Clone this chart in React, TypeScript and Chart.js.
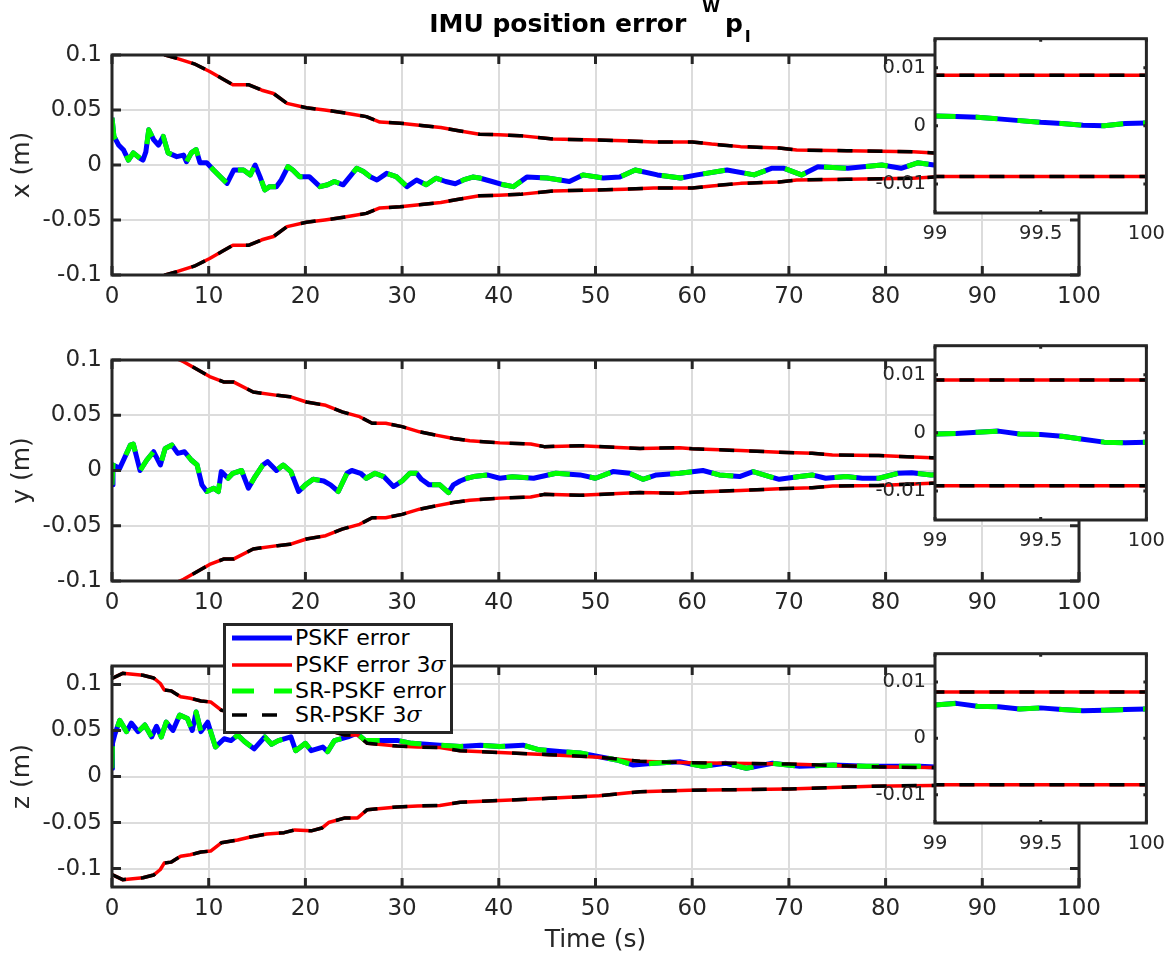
import React, { useEffect, useRef } from "react";
import { Chart, registerables } from "chart.js";

Chart.register(...registerables);

const FONT = "'DejaVu Sans', sans-serif";
const AXIS_COLOR = "#262626";
const GRID_COLOR = "#dcdcdc";
const TICK_SIZE = 23;
const LABEL_SIZE = 25;
const INSET_TICK_SIZE = 19.5;

// ---------------- data: panel x ----------------
const timeErrX = [0, 0.2, 0.7, 1.2, 1.7, 2.2, 2.9, 3.2, 3.5, 3.8, 4.3, 4.8, 5.3, 5.8, 6.7, 7.4, 7.7, 8.2, 8.7, 9.1, 9.8, 10.5, 11.2, 11.9, 12.6, 13.6, 14.3, 14.8, 15.3, 15.8, 16.3, 17.0, 17.5, 18.2, 18.7, 19.4, 20.4, 21.5, 22.3, 23.0, 23.9, 24.6, 25.3, 26.0, 26.7, 27.4, 28.4, 29.4, 30.5, 31.5, 32.5, 33.5, 34.5, 35.5, 36.5, 37.3, 38.0, 39.3, 40.5, 41.5, 42.9, 45.0, 47.3, 48.7, 50.8, 52.5, 54.1, 56.4, 58.8, 60.5, 63.6, 66.4, 68.2, 69.5, 71.3, 73.0, 76.1, 79.6, 81.6, 83.3, 85.0, 88, 92, 96, 98, 99.0, 99.1, 99.2, 99.3, 99.4, 99.5, 99.6, 99.7, 99.8, 99.9, 100];
const errX = [0.043, 0.026, 0.018, 0.0136, 0.0045, 0.011, 0.006, 0.0045, 0.012, 0.032, 0.023, 0.018, 0.026, 0.011, 0.0076, 0.009, 0.003, 0.011, 0.014, 0.002, 0.002, -0.0045, -0.0106, -0.0167, -0.0045, -0.0045, -0.009, 0, -0.0106, -0.0227, -0.0197, -0.0197, -0.0136, -0.0015, -0.0045, -0.0106, -0.0106, -0.0197, -0.018, -0.015, -0.018, -0.0106, -0.003, -0.006, -0.0106, -0.0136, -0.0076, -0.0106, -0.0197, -0.0136, -0.018, -0.012, -0.015, -0.017, -0.013, -0.011, -0.0118, -0.015, -0.018, -0.0197, -0.011, -0.0118, -0.015, -0.009, -0.0118, -0.011, -0.0045, -0.009, -0.0118, -0.009, -0.0045, -0.009, -0.003, -0.003, -0.009, -0.0015, -0.003, 0, -0.003, 0.002, 0, 0.002, 0.003, 0.0022, 0.0019, 0.0017, 0.0016, 0.0015, 0.0012, 0.0009, 0.0006, 0.0004, 0.0001, 0, 0.0004, 0.0005];
const timeSigX = [0, 3, 5.5, 6.7, 8.5, 10.1, 11.5, 12.5, 14.1, 15.5, 16.7, 18.1, 20.1, 22, 23.6, 25, 26.3, 27.7, 29.8, 32, 34, 36, 38, 40, 42.2, 45.6, 50.1, 53, 56, 60, 62, 65, 69, 70.8, 76, 82.8, 85, 90, 95, 99, 100];
const sigX = [0.13, 0.115, 0.1, 0.097, 0.092, 0.085, 0.078, 0.073, 0.073, 0.068, 0.065, 0.056, 0.052, 0.05, 0.048, 0.046, 0.044, 0.039, 0.038, 0.036, 0.034, 0.031, 0.028, 0.0275, 0.0267, 0.0236, 0.0227, 0.022, 0.021, 0.021, 0.019, 0.0167, 0.0155, 0.0136, 0.013, 0.012, 0.011, 0.0102, 0.0093, 0.0087, 0.0087];

// ---------------- data: panel y ----------------
const timeErrY = [0, 0.1, 0.8, 1.9, 2.2, 2.9, 3.6, 4.3, 5.0, 5.5, 6.2, 6.8, 7.5, 8.2, 8.8, 9.3, 9.8, 10.5, 11.0, 11.3, 12.0, 12.5, 13.4, 14.1, 14.8, 15.6, 16.1, 17.0, 17.7, 18.5, 19.3, 20.0, 20.8, 21.9, 22.6, 23.4, 24.3, 24.8, 25.7, 26.3, 27.2, 28.1, 29.1, 30.0, 30.8, 31.5, 32.0, 32.8, 33.9, 34.8, 35.3, 36.0, 36.7, 37.4, 38.8, 40.1, 41.4, 43.6, 45.9, 48.4, 50.0, 51.8, 53.5, 54.9, 56.3, 58.7, 61.1, 62.8, 64.9, 66.3, 68.0, 69.0, 71.1, 72.4, 73.8, 75.9, 77.6, 79.3, 81.3, 82.7, 84.7, 88, 92, 96, 98, 99.0, 99.1, 99.2, 99.3, 99.4, 99.5, 99.6, 99.7, 99.8, 99.9, 100];
const errY = [-0.013, 0.005, 0.002, 0.023, 0.024, 0, 0.0095, 0.017, 0.005, 0.02, 0.023, 0.0155, 0.017, 0.0095, 0.005, -0.013, -0.019, -0.016, -0.019, -0.001, -0.007, -0.0025, 0, -0.016, -0.0055, 0.005, 0.008, 0, 0.005, -0.001, -0.019, -0.013, -0.008, -0.0095, -0.013, -0.019, -0.0025, 0, -0.0025, -0.007, -0.0025, -0.0055, -0.0145, -0.0095, -0.0025, -0.0025, -0.008, -0.013, -0.013, -0.02, -0.013, -0.0095, -0.007, -0.0055, -0.004, -0.007, -0.0056, -0.007, -0.0025, -0.004, -0.007, -0.001, -0.0025, -0.008, -0.004, -0.0025, 0, -0.004, -0.0055, -0.001, -0.0055, -0.008, -0.0055, -0.004, -0.007, -0.0055, -0.007, -0.007, -0.0025, -0.002, -0.004, -0.003, -0.002, -0.001, -0.0005, -0.0002, -0.0001, 0.0001, 0.0003, -0.0002, -0.0003, -0.0006, -0.0011, -0.0016, -0.0017, -0.0016];
const timeSigY = [0, 4, 7.4, 10.1, 11.6, 12.6, 14.6, 17.1, 18.4, 20.1, 22.1, 23.8, 25.6, 26.9, 28.3, 30, 31.8, 33.5, 35.3, 37, 40.1, 43.3, 44.7, 48.4, 54.6, 58.7, 60, 65, 69, 72.4, 74.5, 79.3, 84.7, 90, 95, 99, 100];
const sigY = [0.13, 0.112, 0.0985, 0.085, 0.08, 0.08, 0.071, 0.068, 0.0668, 0.062, 0.059, 0.053, 0.0487, 0.0427, 0.0427, 0.0397, 0.035, 0.032, 0.029, 0.027, 0.025, 0.024, 0.0216, 0.0225, 0.02, 0.0206, 0.0196, 0.018, 0.0165, 0.0156, 0.014, 0.0135, 0.0116, 0.0105, 0.0097, 0.0091, 0.0091];

// ---------------- data: panel z ----------------
const timeErrZ = [0, 0.05, 0.3, 0.8, 1.5, 2.0, 2.7, 3.4, 4.1, 4.6, 5.1, 5.6, 6.3, 7.0, 7.8, 8.3, 8.7, 9.2, 9.9, 10.7, 11.6, 12.3, 13.0, 13.7, 14.7, 15.8, 16.5, 17.2, 18.5, 19.0, 20.0, 20.6, 21.8, 22.3, 23.0, 24.4, 25.3, 26.2, 27.9, 29.6, 31.0, 32.5, 33.9, 36.0, 38.1, 40.1, 42.5, 44.2, 46.6, 48.4, 50.4, 52.2, 53.9, 56.0, 58.7, 61.1, 63.5, 65.6, 68.3, 71.1, 74.6, 78.0, 80.8, 83.5, 88, 92, 96, 98, 99.0, 99.1, 99.2, 99.3, 99.4, 99.5, 99.6, 99.7, 99.8, 99.9, 100];
const errZ = [0.009, 0.036, 0.046, 0.061, 0.0487, 0.058, 0.0487, 0.056, 0.043, 0.0545, 0.043, 0.059, 0.05, 0.0668, 0.063, 0.05, 0.07, 0.0487, 0.059, 0.032, 0.041, 0.039, 0.045, 0.038, 0.03, 0.043, 0.035, 0.039, 0.043, 0.028, 0.036, 0.028, 0.032, 0.027, 0.039, 0.043, 0.047, 0.039, 0.039, 0.039, 0.036, 0.035, 0.034, 0.0325, 0.034, 0.0325, 0.034, 0.029, 0.027, 0.0255, 0.0215, 0.018, 0.0125, 0.0143, 0.016, 0.011, 0.0143, 0.009, 0.0143, 0.011, 0.0125, 0.011, 0.011, 0.011, 0.009, 0.0075, 0.0065, 0.006, 0.0059, 0.0062, 0.0057, 0.0056, 0.0052, 0.0054, 0.0051, 0.0049, 0.005, 0.0051, 0.0052];
const timeSigZ = [0, 1.1, 3.2, 4.3, 5.0, 5.4, 6.1, 7.1, 8.1, 9.2, 10.2, 11.3, 13, 14.3, 16, 17.8, 18.9, 20.6, 21.7, 22.4, 24.1, 25.4, 26.4, 29.5, 31.6, 33.9, 36, 40.1, 45.2, 50.4, 53.2, 54.6, 59.7, 70, 78.6, 84.8, 90, 95, 99, 100];
const sigZ = [0.1066, 0.112, 0.11, 0.107, 0.101, 0.094, 0.093, 0.0867, 0.085, 0.082, 0.081, 0.072, 0.069, 0.0657, 0.0625, 0.061, 0.058, 0.059, 0.056, 0.05, 0.045, 0.045, 0.036, 0.033, 0.032, 0.0315, 0.028, 0.026, 0.0237, 0.021, 0.018, 0.0165, 0.015, 0.0135, 0.0105, 0.0097, 0.009, 0.0085, 0.0082, 0.0082];

// ---------------- ticks / labels ----------------
const xTicks = [0, 10, 20, 30, 40, 50, 60, 70, 80, 90, 100];
const yTicksMain = [-0.1, -0.05, 0, 0.05, 0.1];
const insetXTicks = [99, 99.5, 100];
const insetYTicks = [-0.01, 0, 0.01];
const panelLabels = ["x (m)", "y (m)", "z (m)"];
const xAxisLabel = "Time (s)";
const seriesLabels = ["PSKF error", "PSKF error 3", "SR-PSKF error", "SR-PSKF 3"];

// styles
const STY = {
  blue: { color: "#0000ff", width: 5, dash: [] as number[] },
  red: { color: "#ff0000", width: 3.5, dash: [] as number[] },
  green: { color: "#00ff00", width: 5, dash: [22, 20] },
  black: { color: "#000000", width: 3.5, dash: [15, 15] },
};

const pts = (t: number[], v: number[]) => t.map((x, i) => ({ x, y: v[i] }));
const negPts = (t: number[], v: number[]) => t.map((x, i) => ({ x, y: -v[i] }));

function makeDatasets(te: number[], e: number[], ts: number[], s: number[]) {
  const base = { pointRadius: 0, tension: 0, fill: false, borderCapStyle: "butt", borderJoinStyle: "round", clip: 0 } as any;
  return [
    { ...base, label: seriesLabels[0], data: pts(te, e), borderColor: STY.blue.color, borderWidth: STY.blue.width, order: 6 },
    { ...base, label: seriesLabels[1], data: pts(ts, s), borderColor: STY.red.color, borderWidth: STY.red.width, order: 5 },
    { ...base, label: seriesLabels[1] + "-", data: negPts(ts, s), borderColor: STY.red.color, borderWidth: STY.red.width, order: 5 },
    { ...base, label: seriesLabels[2], data: pts(te, e), borderColor: STY.green.color, borderWidth: STY.green.width, borderDash: STY.green.dash, order: 4 },
    { ...base, label: seriesLabels[3], data: pts(ts, s), borderColor: STY.black.color, borderWidth: STY.black.width, borderDash: STY.black.dash, order: 3 },
    { ...base, label: seriesLabels[3] + "-", data: negPts(ts, s), borderColor: STY.black.color, borderWidth: STY.black.width, borderDash: STY.black.dash, order: 3 },
  ];
}

const boxPlugin = {
  id: "box",
  beforeDraw(chart: any, _a: any, opts: any) {
    if (!opts.fill) return;
    const { ctx, chartArea: a } = chart;
    ctx.save();
    ctx.fillStyle = opts.fill;
    ctx.fillRect(a.left, a.top, a.width, a.height);
    ctx.restore();
  },
  afterDatasetsDraw(chart: any, _a: any, opts: any) {
    const { ctx, chartArea: a, scales } = chart;
    const L = opts.tick || 0;
    ctx.save();
    ctx.strokeStyle = AXIS_COLOR;
    ctx.lineWidth = 3;
    ctx.lineCap = "butt";
    ctx.beginPath();
    for (const t of scales.x.ticks) {
      const px = scales.x.getPixelForValue(t.value);
      ctx.moveTo(px, a.bottom);
      ctx.lineTo(px, a.bottom - L);
      ctx.moveTo(px, a.top);
      ctx.lineTo(px, a.top + L);
    }
    for (const t of scales.y.ticks) {
      const py = scales.y.getPixelForValue(t.value);
      ctx.moveTo(a.left, py);
      ctx.lineTo(a.left + L, py);
      ctx.moveTo(a.right, py);
      ctx.lineTo(a.right - L, py);
    }
    ctx.stroke();
    ctx.strokeRect(a.left, a.top, a.width, a.height);
    ctx.restore();
  },
};

type PanelGeom = { top: number; bottom: number; ymax: number; ext: number };
const mainGeoms: PanelGeom[] = [
  { top: 55, bottom: 275, ymax: 0.1, ext: 45 },
  { top: 360, bottom: 581, ymax: 0.1, ext: 45 },
  { top: 666, bottom: 887, ymax: 0.12, ext: 72 },
];
const insetGeoms = [
  { top: 38, bottom: 213 },
  { top: 345, bottom: 520 },
  { top: 653, bottom: 823 },
];
const PLOT_LEFT = 112;
const PLOT_RIGHT = 1079;
const PAD_TOP = 30;
const INSET_LEFT = 935;
const INSET_RIGHT = 1148;
const INSET_CANVAS_LEFT = 860;

const panelData = [
  [timeErrX, errX, timeSigX, sigX],
  [timeErrY, errY, timeSigY, sigY],
  [timeErrZ, errZ, timeSigZ, sigZ],
];

function MainPanel({ idx }: { idx: number }) {
  const ref = useRef<HTMLCanvasElement>(null);
  const g = mainGeoms[idx];
  const height = PAD_TOP + (g.bottom - g.top) + g.ext;
  useEffect(() => {
    const [te, e, ts, s] = panelData[idx];
    const isLast = idx === 2;
    const chart = new Chart(ref.current!, {
      type: "line",
      data: { datasets: makeDatasets(te, e, ts, s) as any },
      plugins: [boxPlugin as any],
      options: {
        animation: false,
        responsive: false,
        devicePixelRatio: 1,
        layout: { padding: { left: 0, right: 1174 - PLOT_RIGHT, top: PAD_TOP, bottom: 0 } },
        plugins: {
          legend: { display: false },
          tooltip: { enabled: false },
          box: { tick: 9 },
        } as any,
        scales: {
          x: {
            type: "linear",
            min: 0,
            max: 100,
            afterBuildTicks: (sc: any) => {
              sc.ticks = xTicks.map((v) => ({ value: v }));
            },
            afterFit: (sc: any) => {
              sc.height = g.ext;
            },
            ticks: {
              callback: (v: any) => String(v),
              font: { family: FONT, size: TICK_SIZE },
              color: AXIS_COLOR,
              padding: 8,
              maxRotation: 0,
              autoSkip: false,
            },
            grid: { color: GRID_COLOR, lineWidth: 2, drawTicks: false },
            border: { display: false },
            title: {
              display: isLast,
              text: xAxisLabel,
              font: { family: FONT, size: LABEL_SIZE },
              color: AXIS_COLOR,
              padding: { top: 0, bottom: 4 },
            },
          } as any,
          y: {
            type: "linear",
            min: -g.ymax,
            max: g.ymax,
            afterBuildTicks: (sc: any) => {
              sc.ticks = yTicksMain.map((v) => ({ value: v }));
            },
            afterFit: (sc: any) => {
              sc.width = PLOT_LEFT;
            },
            ticks: {
              callback: (v: any) => String(v),
              font: { family: FONT, size: TICK_SIZE },
              color: AXIS_COLOR,
              padding: 10,
              autoSkip: false,
            },
            grid: { color: GRID_COLOR, lineWidth: 2, drawTicks: false },
            border: { display: false },
            title: {
              display: true,
              text: panelLabels[idx],
              font: { family: FONT, size: LABEL_SIZE },
              color: AXIS_COLOR,
              padding: { top: 7, bottom: 0 },
            },
          } as any,
        },
      },
    });
    return () => chart.destroy();
  }, [idx]);
  return (
    <canvas
      ref={ref}
      width={1174}
      height={height}
      style={{ position: "absolute", left: 0, top: g.top - PAD_TOP, width: 1174, height }}
    />
  );
}

const INSET_PAD_TOP = 20;
const INSET_EXT = 37;
const INSET_Y_W = INSET_LEFT - INSET_CANVAS_LEFT;
const INSET_W = 1174 - INSET_CANVAS_LEFT;

function InsetPanel({ idx }: { idx: number }) {
  const ref = useRef<HTMLCanvasElement>(null);
  const g = insetGeoms[idx];
  const height = INSET_PAD_TOP + (g.bottom - g.top) + INSET_EXT;
  useEffect(() => {
    const [te, e, ts, s] = panelData[idx];
    const chart = new Chart(ref.current!, {
      type: "line",
      data: { datasets: makeDatasets(te, e, ts, s) as any },
      plugins: [boxPlugin as any],
      options: {
        animation: false,
        responsive: false,
        devicePixelRatio: 1,
        layout: { padding: { left: 0, right: 1174 - INSET_RIGHT, top: INSET_PAD_TOP, bottom: 0 } },
        plugins: {
          legend: { display: false },
          tooltip: { enabled: false },
          box: { tick: 3, fill: "#ffffff" },
        } as any,
        scales: {
          x: {
            type: "linear",
            min: 99,
            max: 100,
            afterBuildTicks: (sc: any) => {
              sc.ticks = insetXTicks.map((v) => ({ value: v }));
            },
            afterFit: (sc: any) => {
              sc.height = INSET_EXT;
            },
            ticks: {
              callback: (v: any) => String(v),
              font: { family: FONT, size: INSET_TICK_SIZE },
              color: AXIS_COLOR,
              padding: 9,
              maxRotation: 0,
              autoSkip: false,
            },
            grid: { display: false, drawTicks: false },
            border: { display: false },
          } as any,
          y: {
            type: "linear",
            min: -0.015,
            max: 0.015,
            afterBuildTicks: (sc: any) => {
              sc.ticks = insetYTicks.map((v) => ({ value: v }));
            },
            afterFit: (sc: any) => {
              sc.width = INSET_Y_W;
            },
            ticks: {
              callback: (v: any) => String(v),
              font: { family: FONT, size: INSET_TICK_SIZE },
              color: AXIS_COLOR,
              padding: 9,
              autoSkip: false,
            },
            grid: { display: false, drawTicks: false },
            border: { display: false },
          } as any,
        },
      },
    });
    return () => chart.destroy();
  }, [idx]);
  return (
    <canvas
      ref={ref}
      width={INSET_W}
      height={height}
      style={{ position: "absolute", left: INSET_CANVAS_LEFT, top: g.top - INSET_PAD_TOP, width: INSET_W, height }}
    />
  );
}

const legendStyles = [STY.blue, STY.red, STY.green, STY.black];
const legendRowCenters = [638, 665, 691, 715];

function Legend() {
  const left = 223;
  const top = 623;
  return (
    <div
      style={{
        position: "absolute",
        left,
        top,
        width: 230,
        height: 111,
        boxSizing: "border-box",
        border: `3px solid ${AXIS_COLOR}`,
        background: "#ffffff",
        fontFamily: FONT,
        fontSize: 22,
        color: "#000",
      }}
    >
      {seriesLabels.map((lab, i) => {
        const st = legendStyles[i];
        const cy = legendRowCenters[i] - top - 3;
        const hasSigma = i === 1 || i === 3;
        return (
          <div key={i}>
            <svg
              width={62}
              height={12}
              style={{ position: "absolute", left: 6, top: cy - 6 }}
            >
              <line
                x1={0}
                y1={6}
                x2={60}
                y2={6}
                stroke={st.color}
                strokeWidth={st.width}
                strokeDasharray={st.dash.length ? st.dash.join(",") : undefined}
              />
            </svg>
            <div
              style={{
                position: "absolute",
                left: 69,
                top: cy - 13,
                lineHeight: "26px",
                whiteSpace: "nowrap",
              }}
            >
              {lab}
              {hasSigma ? (
                <span style={{ fontFamily: "'DejaVu Serif', serif", fontStyle: "italic" }}>σ</span>
              ) : null}
            </div>
          </div>
        );
      })}
    </div>
  );
}

function Title() {
  return (
    <div
      style={{
        position: "absolute",
        left: 0,
        width: 1180,
        top: 10,
        textAlign: "center",
        fontFamily: FONT,
        fontWeight: "bold",
        fontSize: 25,
        lineHeight: "28px",
        color: "#000",
        whiteSpace: "nowrap",
      }}
    >
      IMU position error
      <span style={{ fontSize: 16, position: "relative", top: -20, marginLeft: 16 }}>W</span>
      <span style={{ marginLeft: 5 }}>p</span>
      <span style={{ fontSize: 16, position: "relative", top: 10, marginLeft: 2 }}>I</span>
    </div>
  );
}

export default function App() {
  return (
    <div
      style={{
        position: "absolute",
        left: 0,
        top: 0,
        width: 1174,
        height: 959,
        overflow: "hidden",
        background: "#ffffff",
      }}
    >
      <MainPanel idx={0} />
      <MainPanel idx={1} />
      <MainPanel idx={2} />
      <InsetPanel idx={0} />
      <InsetPanel idx={1} />
      <InsetPanel idx={2} />
      <Legend />
      <Title />
    </div>
  );
}
